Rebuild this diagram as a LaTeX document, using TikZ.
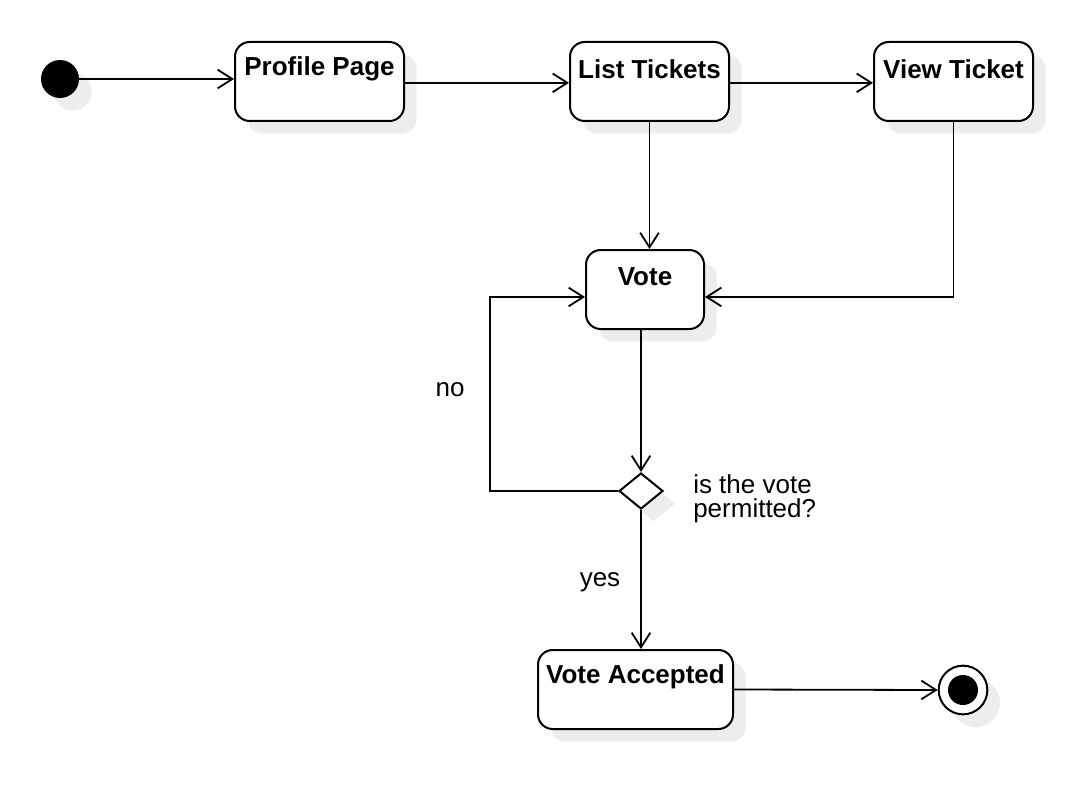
\documentclass[tikz,border=0pt]{standalone}
\usepackage{fontspec}
\setmainfont{Liberation Sans}
\usetikzlibrary{arrows.meta,shapes.geometric,shadows}
\begin{document}
\begin{tikzpicture}[x=0.75pt,y=-0.75pt,
  shd/.style={general shadow={fill=black!7, draw=none, shadow xshift=9.5pt, shadow yshift=-9.5pt}},
  state/.style={draw, line width=1.5pt, rounded corners=11pt, fill=white, shd, minimum height=59.25pt, inner sep=0pt},
  lbl/.style={font=\fontsize{19.5}{18}\selectfont\bfseries, anchor=center, yshift=-21pt, inner sep=0pt},
  txt/.style={font=\fontsize{19.5}{18}\selectfont, inner sep=0pt},
  flow/.style={line width=1.35pt, -{Straight Barb[length=11pt,width=14pt]}},
]
\useasboundingbox (0,0) rectangle (1092,788);
% states
\node[circle, fill=black, minimum size=28.5pt, inner sep=0pt, shd] (init) at (60,79) {};
\node[state, minimum width=126.75pt, label={[lbl]north:Profile Page}] (pp) at (319.5,81.5) {};
\node[state, minimum width=119.25pt, label={[lbl]north:List Tickets}] (lt) at (649.5,81.5) {};
\node[state, minimum width=119.25pt, label={[lbl]north:View Ticket}] (vt) at (953.5,81.5) {};
\node[state, minimum width=88.5pt, label={[lbl]north:Vote}] (vote) at (645,289.5) {};
\node[diamond, draw, fill=white, line width=1.5pt, shd, aspect=1.2, minimum width=33pt, minimum height=27pt, inner sep=0pt] (dec) at (641,491) {};
\node[state, minimum width=146.25pt, label={[lbl]north:Vote Accepted}] (va) at (635.5,689.5) {};
\node[circle, draw, fill=white, line width=1.5pt, minimum size=36.5pt, inner sep=0pt, shd] (fin) at (963,690) {};
\fill (fin.center) circle (11.25pt);
% labels
\node[txt] (lno) at (450,390) {no};
\node[txt] (lyes) at (600,582) {yes};
\node[txt, anchor=west, align=left] (lq) at (693,499) {is the vote\\permitted?};
% connectors
\coordinate (nocorner) at (490,491);
\draw[flow] (init.east) -- (init.east -| pp.west);
\draw[flow] ([yshift=-1pt]pp.east) -- ([yshift=-1pt]lt.west);
\draw[flow] ([yshift=-1pt]lt.east) -- ([yshift=-1pt]vt.west);
\draw[flow] (lt.south) -- (lt.south |- vote.north);
\draw[flow] (vt.south) |- ([yshift=-5.6pt]vote.east);
\draw[flow] (vote.south -| dec.north) -- (dec.north);
\draw[flow] (dec.west) -- (nocorner) |- ([yshift=-5.6pt]vote.west);
\draw[flow] (dec.south) -- (dec.south |- va.north);
\draw[flow] (va.east) -- (fin.west);
\end{tikzpicture}
\end{document}
